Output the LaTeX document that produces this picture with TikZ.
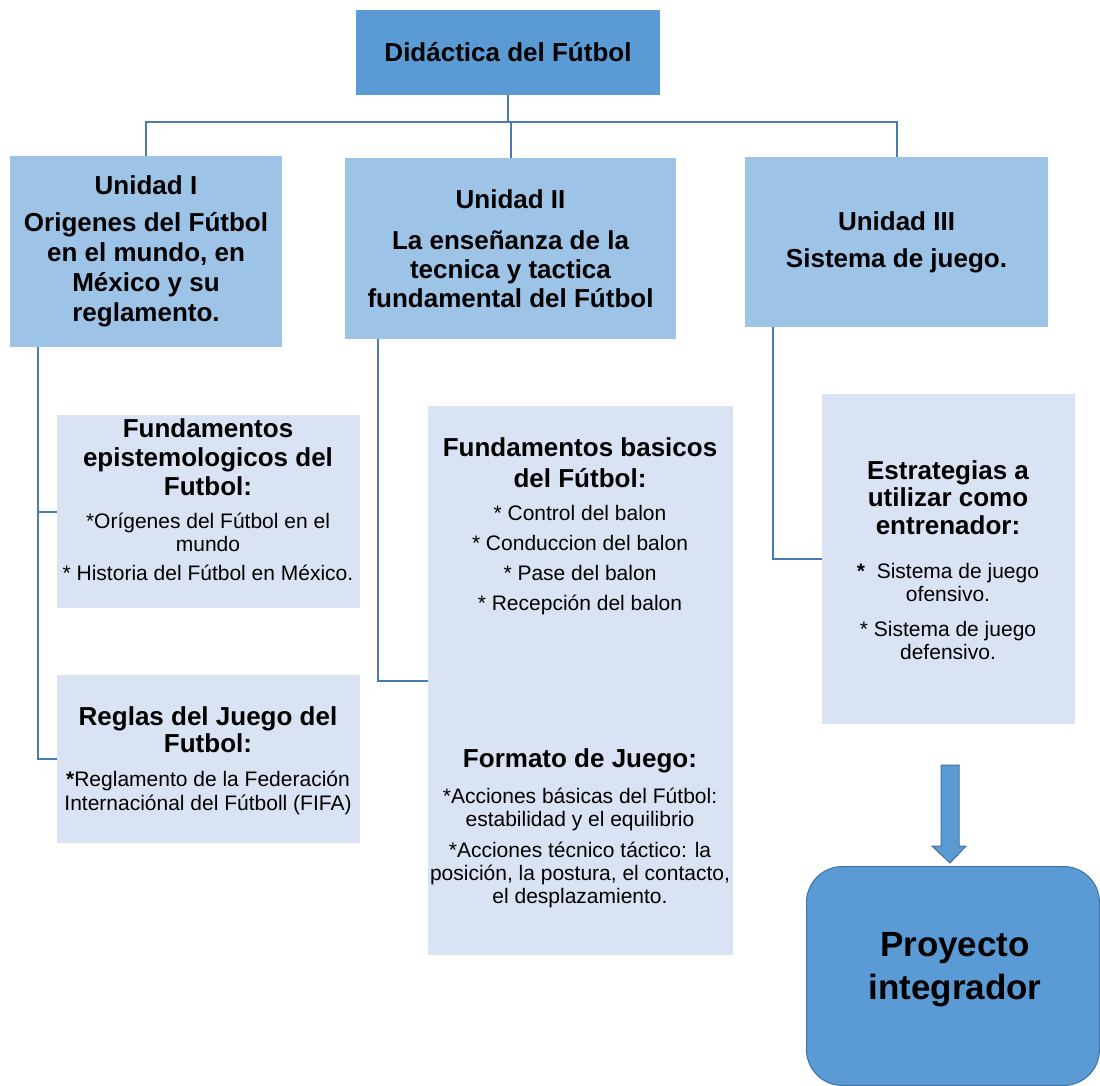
\documentclass[tikz,border=0pt]{standalone}
\usepackage{fontspec}
\setmainfont{Liberation Sans}
\definecolor{topblue}{HTML}{5B9BD5}
\definecolor{unitblue}{HTML}{9DC3E6}
\definecolor{paleblue}{HTML}{DAE3F3}
\definecolor{linkblue}{HTML}{4A7BB0}
\definecolor{edgeblue}{HTML}{41719C}
\begin{document}
\begin{tikzpicture}[x=1pt,y=-1pt,
  box/.style={rectangle,inner sep=0pt,outer sep=0pt,align=center},
  topbox/.style={box,fill=topblue,font=\fontsize{26}{30}\selectfont\bfseries},
  unitbox/.style={box,fill=unitblue,font=\fontsize{26}{30}\selectfont\bfseries},
  palebox/.style={box,fill=paleblue},
  hdr/.style={inner sep=0pt,align=center,font=\fontsize{26}{29}\selectfont\bfseries},
  bodytxt/.style={inner sep=0pt,align=center,font=\fontsize{21}{23}\selectfont},
  conn/.style={draw=linkblue,line width=2pt}]
\useasboundingbox (0,0) rectangle (1100,1086);
% top
\node[topbox,minimum width=304,minimum height=85] (top) at (508,52.5) {Didáctica del Fútbol};
% units
\node[unitbox,minimum width=272,minimum height=191] (u1) at (146,251.5)
  {Unidad I\\[7pt]Origenes del Fútbol\\en el mundo, en\\México y su\\reglamento.};
\node[unitbox,minimum width=331,minimum height=181,font=\fontsize{26}{29}\selectfont\bfseries] (u2) at (510.5,248.5)
  {Unidad II\\[12pt]La enseñanza de la\\tecnica y tactica\\fundamental del Fútbol};
\node[unitbox,minimum width=303,minimum height=170] (u3) at (896.5,242)
  {Unidad III\\[7pt]Sistema de juego.};
% pale boxes
\node[palebox,minimum width=303,minimum height=193] (ep) at (208.5,511.5) {};
\node[palebox,minimum width=303,minimum height=168] (rg) at (208.5,759) {};
\node[palebox,minimum width=305,minimum height=549] (fb) at (580.5,680.5) {};
\node[palebox,minimum width=253,minimum height=330] (es) at (948.5,559) {};
% texts
\node[hdr] (ept) at (208,457) {Fundamentos\\epistemologicos del\\Futbol:};
\node[bodytxt] (epb) at (208,547) {*Orígenes del Fútbol en el\\mundo\\[6pt]* Historia del Fútbol en México.};
\node[hdr,font=\fontsize{26}{27}\selectfont\bfseries] (rgt) at (208,729.5) {Reglas del Juego del\\Futbol:};
\node[bodytxt,font=\fontsize{21}{24}\selectfont] (rgb) at (208,793) {{\bfseries *}Reglamento de la Federación\\Internaciónal del Fútboll (FIFA)};
\node[hdr,font=\fontsize{26}{31}\selectfont\bfseries] (fbt) at (580,462.5) {Fundamentos basicos\\del Fútbol:};
\node[bodytxt,font=\fontsize{21}{30}\selectfont] (fbb) at (580,560.5) {* Control del balon\\* Conduccion del balon\\* Pase del balon\\* Recepción del balon};
\node[hdr] (fmt) at (580,761) {Formato de Juego:};
\node[bodytxt] (fmb) at (580,848) {*Acciones básicas del Fútbol:\\estabilidad y el equilibrio\\[8pt]*Acciones técnico táctico: la\\posición, la postura, el contacto,\\el desplazamiento.};
\node[hdr,font=\fontsize{26}{27.5}\selectfont\bfseries] (est) at (948,497.5) {Estrategias a\\utilizar como\\entrenador:};
\node[bodytxt] (esb) at (948,611.5) {{\bfseries *} \ Sistema de juego\\ofensivo.\\[12pt]* Sistema de juego\\defensivo.};
% final box
\node[box,fill=topblue,draw=edgeblue,line width=1pt,rounded corners=36pt,minimum width=293,minimum height=219] (pi) at (953,976) {};
\node[hdr,font=\fontsize{35}{43}\selectfont\bfseries] (pit) at (955,970) {Proyecto\\integrador};
% connectors
\coordinate (hub) at (508,122);
\draw[conn] (top.south) -- (hub);
\draw[conn] (hub) -| (u1.north);
\draw[conn] (hub) -| (u3.north);
\draw[conn] (u2.north |- hub) -- (u2.north);
\coordinate (u1t) at (38,347);
\draw[conn] (u1t) |- (ep.west);
\draw[conn] (u1t) |- (rg.west);
\coordinate (u2t) at (378,339);
\draw[conn] (u2t) |- (fb.west);
\coordinate (u3t) at (773,327);
\draw[conn] (u3t) |- (es.west);
% block arrow
\coordinate (arrtop) at (950,765);
\draw[fill=topblue,draw=edgeblue,line width=1pt]
  (arrtop) ++(-9,0) -- ++(0,81) -- ++(-9,0) -- (950,863) -- (966,846) -- ++(-7,0) -- ++(0,-81) -- cycle;
\end{tikzpicture}
\end{document}
